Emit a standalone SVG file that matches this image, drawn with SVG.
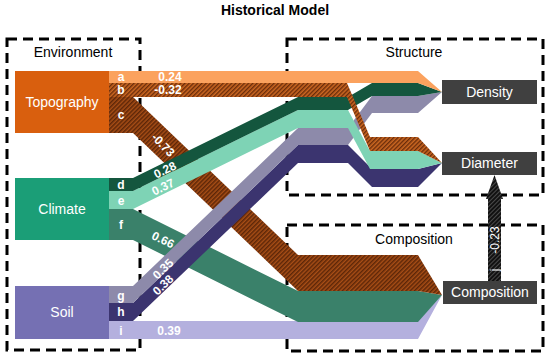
<svg xmlns="http://www.w3.org/2000/svg" width="550" height="358" viewBox="0 0 550 358">
<defs>
<pattern id="hatchB" width="3" height="3" patternUnits="userSpaceOnUse" patternTransform="rotate(45)"><rect width="3" height="3" fill="#CC6822"/><rect width="1.4" height="3" fill="#6A2C0A"/></pattern>
<pattern id="hatchC" width="3" height="3" patternUnits="userSpaceOnUse" patternTransform="rotate(45)"><rect width="3" height="3" fill="#A84E16"/><rect width="1.5" height="3" fill="#5C2608"/></pattern>
<pattern id="hatchJ" width="3" height="3" patternUnits="userSpaceOnUse" patternTransform="rotate(45)"><rect width="3" height="3" fill="#4a4a4a"/><rect width="2" height="3" fill="#111"/></pattern>
<style>
.box{fill:none;stroke:#000;stroke-width:3;stroke-dasharray:10 6}
.grp{font-family:"Liberation Sans",Arial,sans-serif;font-size:14px;fill:#000;text-anchor:middle}
.nt{font-family:"Liberation Sans",Arial,sans-serif;font-size:14px;fill:#fff;text-anchor:middle}
.lt{font-family:"Liberation Sans",Arial,sans-serif;font-size:12px;font-weight:bold;fill:#fff;text-anchor:middle}
.vt{font-family:"Liberation Sans",Arial,sans-serif;font-size:12px;font-weight:bold;fill:#fff;text-anchor:middle}
.node{fill:#404040}
</style>
</defs>
<rect width="550" height="358" fill="#fff"/>
<text x="275" y="15" font-family="Liberation Sans, Arial, sans-serif" font-size="14" font-weight="bold" text-anchor="middle">Historical Model</text>

<g id="groups">
<rect class="box" x="7" y="39" width="133" height="311"/>
<rect class="box" x="287" y="39" width="256" height="156"/>
<rect class="box" x="287" y="225" width="256" height="126"/>
<text class="grp" x="73" y="57">Environment</text>
<text class="grp" x="414" y="57">Structure</text>
<text class="grp" x="414" y="244">Composition</text>
</g>

<g id="connectors">
<polygon id="flow-i" fill="#B4B0DE" points="109,321 418,321 442,295 418,339 109,339"/>
<polygon id="flow-f" fill="#3A816A" points="109,209 133,209 298,291 418,291 442,295 418,322 298,322 133,240 109,240"/>
<polygon id="flow-c" fill="url(#hatchC)" points="109,97 133,97 298,255 418,255 442,295 418,291 298,291 133,133 109,133"/>
<polygon id="flow-h" fill="#3B346F" points="109,303 133,303 298,145 348,145 372,169 418,169 442,163 418,187 372,187 348,163 298,163 133,321 109,321"/>
<polygon id="flow-g" fill="#8D8AAA" points="109,286 133,286 298,128 348,128 372,96 418,96 442,92 418,113 372,113 348,145 298,145 133,303 109,303"/>
<polygon id="flow-e" fill="#7ED3B5" points="109,191 133,191 298,110 348,110 370,151 418,151 442,163 418,169 370,169 348,128 298,128 133,209 109,209"/>
<polygon id="flow-d" fill="#14563E" points="109,178 133,178 298,97 348,97 372,83 418,83 442,92 418,96 372,96 348,110 298,110 133,191 109,191"/>
<polygon id="flow-b" fill="url(#hatchB)" points="109,83 347,83 370,137 418,137 442,163 418,151 370,151 347,97 109,97"/>
<polygon id="flow-a" fill="#FBA25E" points="109,71 418,71 442,92 418,83 109,83"/>
<polygon id="flow-j" fill="url(#hatchJ)" points="494.5,175 503,199 501,199 501,281 488,281 488,199 486,199"/>

<text class="lt" x="121" y="81">a</text>
<text class="lt" x="121" y="94">b</text>
<text class="lt" x="121" y="119">c</text>
<text class="lt" x="121" y="189">d</text>
<text class="lt" x="121" y="205">e</text>
<text class="lt" x="121" y="229">f</text>
<text class="lt" x="121" y="300">g</text>
<text class="lt" x="121" y="316">h</text>
<text class="lt" x="121" y="335">i</text>

<text class="vt" x="170" y="81">0.24</text>
<text class="vt" x="168" y="94">-0.32</text>
<text class="vt" transform="translate(163,145) rotate(46)" y="4">-0.73</text>
<text class="vt" transform="translate(165,170) rotate(-26)" y="4">0.28</text>
<text class="vt" transform="translate(163,187) rotate(-26)" y="4">0.37</text>
<text class="vt" transform="translate(163,240) rotate(26)" y="4">0.66</text>
<text class="vt" transform="translate(163,269) rotate(-44)" y="4">0.35</text>
<text class="vt" transform="translate(163,285) rotate(-44)" y="4">0.38</text>
<text class="vt" x="169" y="335">0.39</text>
<text class="vt" style="font-weight:normal" transform="translate(495,240) rotate(-90)" y="4">-0.23</text>
<text class="vt" style="font-weight:normal" transform="translate(495,270) rotate(-90)" y="4">j</text>
</g>

<g id="node-topography">
<rect x="15" y="71" width="94" height="62" fill="#D95F0E"/>
<text class="nt" x="62" y="107">Topography</text>
</g>
<g id="node-climate">
<rect x="15" y="178" width="94" height="62" fill="#1B9E77"/>
<text class="nt" x="62" y="214">Climate</text>
</g>
<g id="node-soil">
<rect x="15" y="286" width="94" height="53" fill="#7570B3"/>
<text class="nt" x="62" y="317">Soil</text>
</g>
<g id="node-density">
<rect class="node" x="442" y="80" width="95" height="24"/>
<text class="nt" x="489.5" y="97">Density</text>
</g>
<g id="node-diameter">
<rect class="node" x="442" y="152" width="95" height="23"/>
<text class="nt" x="489.5" y="168">Diameter</text>
</g>
<g id="node-composition">
<rect class="node" x="443" y="281" width="94" height="23"/>
<text class="nt" x="490" y="297">Composition</text>
</g>
</svg>
